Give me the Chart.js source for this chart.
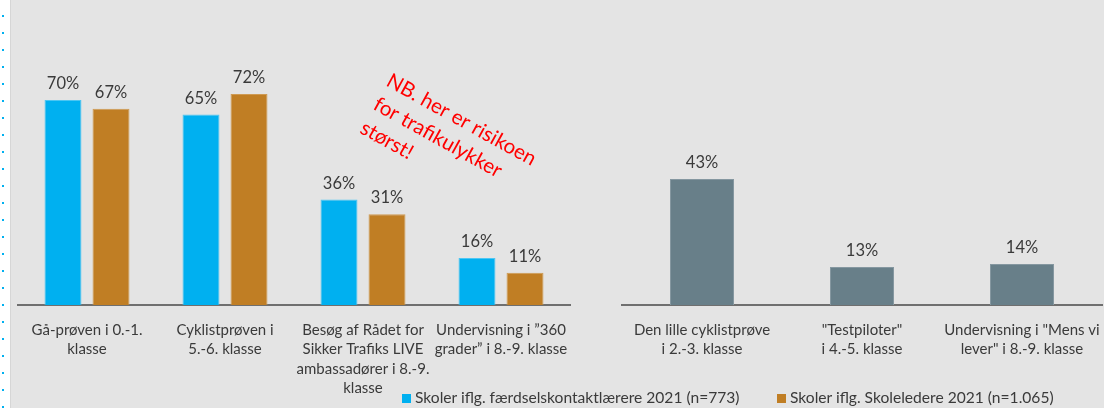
<!DOCTYPE html>
<html>
<head>
<meta charset="utf-8">
<script src="https://cdn.jsdelivr.net/npm/chart.js@4.4.1/dist/chart.umd.min.js"></script>
<style>
  html, body { margin:0; padding:0; width:1104px; height:408px; overflow:hidden; background:#e4e4e4; font-family: Lato, "Open Sans", sans-serif; }
  #strip { position:absolute; left:0; top:0; width:10px; height:408px; background-color:#ffffff; border-right:1px solid #d6d6d6;
    background-image: linear-gradient(to bottom, #00b0f0 0, #00b0f0 2px, transparent 2px, transparent 17px);
    background-size: 2px 17px; background-repeat: repeat-y; background-position: 2px 15px; }
  #leftWrap { position:absolute; left:0; top:0; width:590px; height:408px; }
  #rightWrap { position:absolute; left:600px; top:0; width:540px; height:408px; }
  .leg { position:absolute; top:388px; font: 15.6px Lato, sans-serif; color:#3a3a3a; white-space:nowrap; line-height:18px; }
  .leg i { display:inline-block; width:9px; height:9px; margin-right:4px; vertical-align:0px; }
</style>
</head>
<body>
<div id="strip"></div>
<div id="leftWrap"><canvas id="left" width="590" height="408"></canvas></div>
<div id="rightWrap"><canvas id="right" width="540" height="408"></canvas></div>
<div class="leg" style="left:402px"><i style="background:#00b0f0"></i><span id="leg1"></span></div>
<div class="leg" style="left:777px"><i style="background:#c07e24"></i><span id="leg2"></span></div>
<script>
// ---- Data ----
const leftCategories = [
  ["Gå-prøven i 0.-1.", "klasse"],
  ["Cyklistprøven i", "5.-6. klasse"],
  ["Besøg af Rådet for", "Sikker Trafiks LIVE", "ambassadører i 8.-9.", "klasse"],
  ["Undervisning i ”360", "grader” i 8.-9. klasse"]
];
const seriesNames = ["Skoler iflg. færdselskontaktlærere 2021 (n=773)", "Skoler iflg. Skoleledere 2021 (n=1.065)"];
const færdselskontaktlærere = [70, 65, 36, 16];
const skoleledere = [67, 72, 31, 11];

const rightCategories = [
  ["Den lille cyklistprøve", "i 2.-3. klasse"],
  ["\"Testpiloter\"", "i 4.-5. klasse"],
  ["Undervisning i \"Mens vi", "lever\" i 8.-9. klasse"]
];
const rightValues = [43, 13, 14];

const noteLines = ["NB. her er risikoen", "for trafikulykker", "størst!"];

// ---- Styles ----
const BLUE = "#00b0f0", ORANGE = "#c07e24", GREY = "#687f89";
const TEXT = "#3a3a3a";

document.getElementById('leg1').textContent = seriesNames[0];
document.getElementById('leg2').textContent = seriesNames[1];

const valueLabels = {
  id: 'valueLabels',
  afterDatasetsDraw(chart) {
    const ctx = chart.ctx;
    chart.data.datasets.forEach((ds, i) => {
      const meta = chart.getDatasetMeta(i);
      meta.data.forEach((bar, j) => {
        ctx.save();
        ctx.font = '16.5px Lato, sans-serif';
        ctx.fillStyle = TEXT;
        ctx.textAlign = 'center';
        ctx.textBaseline = 'alphabetic';
        ctx.fillText(ds.data[j] + '%', bar.x, bar.y - 11);
        ctx.restore();
      });
    });
  }
};

const note = {
  id: 'note',
  afterDraw(chart) {
    const ctx = chart.ctx;
    ctx.save();
    ctx.translate(385, 85);
    ctx.rotate(29 * Math.PI / 180);
    ctx.font = '20.5px Lato, sans-serif';
    ctx.fillStyle = '#ff0000';
    ctx.textAlign = 'left';
    ctx.textBaseline = 'alphabetic';
    noteLines.forEach((t, k) => ctx.fillText(t, 0, k * 27));
    ctx.restore();
  }
};

function xScale() {
  return {
    offset: true,
    grid: { display: false, drawTicks: false },
    border: { display: true, color: '#6f6f6f', width: 2 },
    ticks: {
      autoSkip: false, maxRotation: 0, minRotation: 0, padding: 15,
      color: TEXT, font: { family: 'Lato', size: 15, lineHeight: 1.3 }
    },
    afterFit(scale) { scale.height = 103; }
  };
}
function yScale() {
  return { display: false, min: 0, max: 100 };
}

new Chart(document.getElementById('left'), {
  type: 'bar',
  data: {
    labels: leftCategories,
    datasets: [
      { label: seriesNames[0], data: færdselskontaktlærere, backgroundColor: BLUE, borderColor: '#4cc6f3', borderWidth: 1,
        categoryPercentage: 0.696, barPercentage: 0.77 },
      { label: seriesNames[1], data: skoleledere, backgroundColor: ORANGE, borderColor: '#cf9a52', borderWidth: 1,
        categoryPercentage: 0.696, barPercentage: 0.77 }
    ]
  },
  options: {
    responsive: false, animation: false, devicePixelRatio: 1,
    layout: { padding: { left: 18, right: 20, top: 12, bottom: 0 } },
    plugins: { legend: { display: false }, tooltip: { enabled: false } },
    scales: { x: xScale(), y: yScale() }
  },
  plugins: [valueLabels, note]
});

new Chart(document.getElementById('right'), {
  type: 'bar',
  data: {
    labels: rightCategories,
    datasets: [
      { label: 'Skoler', data: rightValues, backgroundColor: GREY, borderColor: '#8597a0', borderWidth: 1,
        categoryPercentage: 1, barPercentage: 0.4 }
    ]
  },
  options: {
    responsive: false, animation: false, devicePixelRatio: 1,
    layout: { padding: { left: 22, right: 38, top: 12, bottom: 0 } },
    plugins: { legend: { display: false }, tooltip: { enabled: false } },
    scales: { x: xScale(), y: yScale() }
  },
  plugins: [valueLabels]
});
</script>
</body>
</html>
